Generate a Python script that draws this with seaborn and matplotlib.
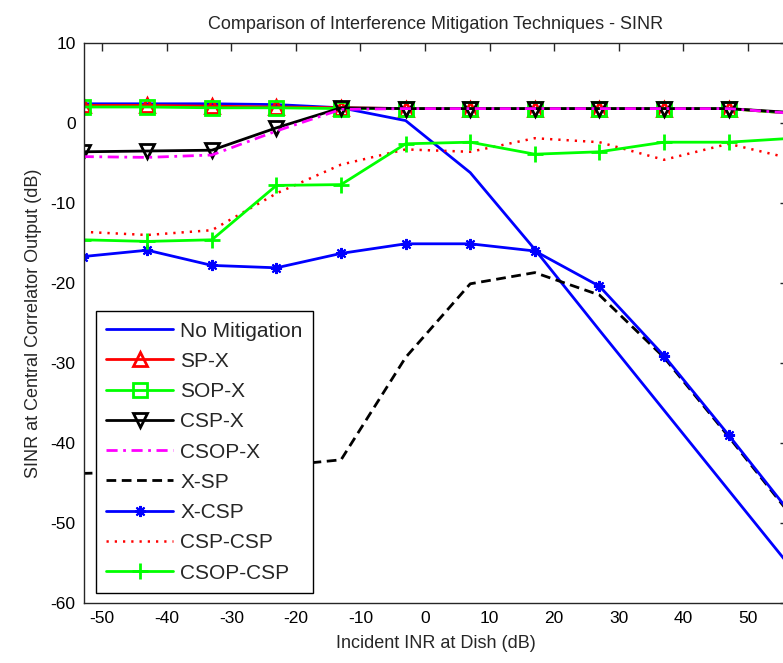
import matplotlib
matplotlib.use("Agg")
import matplotlib.pyplot as plt
import seaborn as sns

# Incident INR sample points (dB)
inr = [-53, -43, -33, -23, -13, -3, 7, 17, 27, 37, 47, 57]

# SINR at the central correlator output (dB) for each technique
no_mitigation = [2.4, 2.4, 2.4, 2.3, 1.9, 0.3, -6.2, -15.8, -25.9, -35.9, -45.9, -55.9]
sp_x = [2.2, 2.2, 2.1, 2.0, 1.9, 1.8, 1.8, 1.8, 1.8, 1.8, 1.8, 1.2]
sop_x = [2.0, 2.0, 1.9, 1.9, 1.8, 1.8, 1.8, 1.8, 1.8, 1.8, 1.8, 1.2]
csp_x = [-3.6, -3.5, -3.4, -0.6, 1.9, 1.8, 1.8, 1.8, 1.8, 1.8, 1.8, 1.3]
csop_x = [-4.2, -4.3, -4.0, -1.0, 1.7, 1.8, 1.8, 1.8, 1.8, 1.8, 1.8, 1.2]
x_sp = [-43.8, -43.6, -43.3, -42.9, -42.1, -29.3, -20.1, -18.7, -21.5, -29.3, -39.2, -49.4]
x_csp = [-16.7, -15.9, -17.8, -18.1, -16.3, -15.1, -15.1, -16.0, -20.4, -29.1, -39.0, -49.2]
csp_csp = [-13.6, -14.0, -13.4, -8.8, -5.2, -3.3, -3.6, -1.9, -2.4, -4.6, -2.6, -4.5]
csop_csp = [-14.6, -14.8, -14.6, -7.8, -7.7, -2.6, -2.4, -3.9, -3.6, -2.4, -2.4, -1.9]

labels = ["No Mitigation", "SP-X", "SOP-X", "CSP-X", "CSOP-X",
          "X-SP", "X-CSP", "CSP-CSP", "CSOP-CSP"]

sns.set_style("white")
narrow = ["Liberation Sans Narrow", "Liberation Sans", "DejaVu Sans"]
plt.rcParams["font.family"] = narrow
plt.rcParams["axes.unicode_minus"] = False
plt.rcParams["legend.numpoints"] = 1

fig = plt.figure(figsize=(7.83, 6.63), dpi=100)
ax = fig.add_axes([84 / 783, 1 - 603 / 663, (788 - 84) / 783, 560 / 663])

BLUE, RED, GREEN, BLACK, MAGENTA = "#0000ff", "#ff0000", "#00ff00", "#000000", "#ff00ff"
lw = 2.0
asterisk = (8, 2, 0)

series = [
    (no_mitigation, BLUE, dict(linestyle="-")),
    (sp_x, RED, dict(linestyle="-", marker="^", markersize=9.5,
                     markerfacecolor="none", markeredgewidth=2.0)),
    (sop_x, GREEN, dict(linestyle="-", marker="s", markersize=9.5,
                        markerfacecolor="none", markeredgewidth=2.0)),
    (csp_x, BLACK, dict(linestyle="-", marker="v", markersize=9.5,
                        markerfacecolor="none", markeredgewidth=2.0)),
    (csop_x, MAGENTA, dict(linestyle=(0, (4, 2, 1, 2)))),
    (x_sp, BLACK, dict(linestyle=(0, (3.5, 2)))),
    (x_csp, BLUE, dict(linestyle="-", marker=asterisk, markersize=8,
                       markeredgewidth=1.5)),
    (csp_csp, RED, dict(linestyle=(0, (0.9, 2.4)), linewidth=1.8)),
    (csop_csp, GREEN, dict(linestyle="-", marker="+", markersize=12,
                           markeredgewidth=2.0)),
]

for (vals, color, style), name in zip(series, labels):
    kw = dict(linewidth=lw, color=color)
    kw.update(style)
    if "marker" in kw:
        kw["markeredgecolor"] = color
    sns.lineplot(x=inr, y=vals, ax=ax, label=name, legend=False, **kw)

ax.set_xlim(-52.8, 56.2)
ax.set_ylim(-60, 10)
ax.set_xticks(list(range(-50, 51, 10)))
ax.set_yticks(list(range(-60, 11, 10)))
ax.tick_params(direction="in", top=True, right=True, length=6, width=1,
               labelsize=12.5, pad=6, colors="#262626", labelcolor="black")
for s in ax.spines.values():
    s.set_color("#262626")
    s.set_linewidth(1.0)

ax.set_title("Comparison of Interference Mitigation Techniques - SINR",
             fontsize=13, pad=10)
ax.set_xlabel("Incident INR at Dish (dB)", fontsize=13, labelpad=6)
ax.set_ylabel("SINR at Central Correlator Output (dB)", fontsize=13, labelpad=6)

handles, names = ax.get_legend_handles_labels()
leg = ax.legend(handles, names, loc="lower left", numpoints=1,
                bbox_to_anchor=(0.017, 0.018), frameon=True, fancybox=False,
                framealpha=1.0,
                prop={"family": ["Liberation Sans", "DejaVu Sans"], "size": 15},
                handlelength=3.2, handletextpad=0.35, labelspacing=0.54,
                borderpad=0.5, borderaxespad=0.0)
leg.get_frame().set_edgecolor("black")
leg.get_frame().set_facecolor("white")
leg.get_frame().set_linewidth(1.0)

fig.savefig("out.png", dpi=100)
